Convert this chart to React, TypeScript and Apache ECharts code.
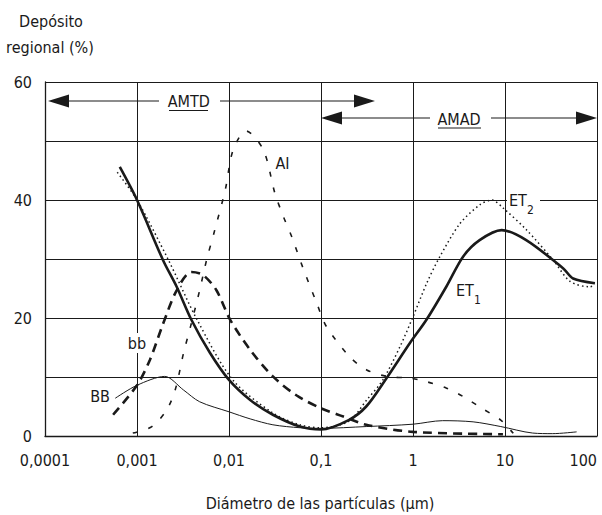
import React, { useEffect, useRef } from 'react';
import * as echarts from 'echarts';

// ---- data ----
const xTickLabels = ['0,0001', '0,001', '0,01', '0,1', '1', '10', '100'];
const yTickLabels = ['0', '', '20', '', '40', '', '60'];

const et1X = [0.00065, 0.001, 0.00192, 0.0027, 0.0039, 0.0062, 0.01, 0.017, 0.03, 0.059, 0.1, 0.2, 0.31, 0.5, 0.93, 1.4, 2.3, 3.5, 5.3, 9.2, 17, 43, 55, 95];
const et1Y = [45.6, 40, 29.8, 25.3, 19.7, 14.1, 9.5, 6.1, 3.6, 1.6, 1.1, 2.7, 5.0, 9.5, 15.8, 19.7, 25.3, 30.4, 33.2, 34.9, 33.2, 28.4, 26.7, 25.9];

const et2X = [0.00061, 0.001, 0.0022, 0.0045, 0.011, 0.03, 0.059, 0.1, 0.2, 0.314, 0.47, 0.72, 1.0, 1.41, 1.96, 3.24, 5.35, 7.2, 9.6, 17.2, 33.5, 51, 84, 95];
const et2Y = [44.7, 40, 29.8, 19.7, 9.5, 3.9, 1.9, 1.4, 2.5, 6.1, 9.5, 15.1, 20.2, 25.9, 30.4, 36, 39.2, 40, 38.6, 34.9, 29.8, 26.2, 25.3, 25.6];

const bbX = [0.00055, 0.001, 0.00138, 0.00193, 0.0027, 0.0039, 0.0052, 0.0073, 0.0103, 0.017, 0.03, 0.054, 0.1, 0.175, 0.31, 1.0, 9.5];
const bbY = [3.6, 8.6, 12.9, 19.1, 24.7, 27.8, 27.3, 24.7, 19.7, 14.6, 10.1, 6.9, 4.7, 3.3, 1.9, 0.7, 0.3];

const aiX = [0.0009, 0.00145, 0.0021, 0.0026, 0.0032, 0.0039, 0.0048, 0.0057, 0.007, 0.0091, 0.0111, 0.0153, 0.0236, 0.0316, 0.039, 0.048, 0.064, 0.09, 0.115, 0.206, 0.314, 0.52, 0.93, 1.41, 2.32, 3.5, 5.6, 9, 12.3];
const aiY = [0.5, 1.6, 4.4, 7.8, 14, 19.1, 24.7, 29.8, 34.9, 41.7, 48.5, 51.7, 48.5, 41.1, 37.2, 33.8, 28.4, 22.5, 18.5, 13.4, 11.2, 10.1, 9.8, 9.2, 8.1, 6.7, 4.7, 2.7, 0.45];

const bigBBX = [0.00058, 0.001, 0.002, 0.0032, 0.0048, 0.01, 0.017, 0.03, 0.059, 0.1, 0.31, 1.0, 2.1, 4.5, 9, 20, 33, 60];
const bigBBY = [6.4, 8.6, 10.1, 7.8, 5.8, 4.1, 2.9, 1.9, 1.4, 1.3, 1.6, 2.0, 2.6, 2.4, 1.6, 0.5, 0.4, 0.7];

const FONT = "'Liberation Sans Narrow', 'DejaVu Sans Condensed', 'Arial Narrow', sans-serif";
const INK = '#1a1a1a';
const FS = 16;

const zip = (xs: number[], ys: number[]) => xs.map((x, i) => [x, ys[i]]);

function txt(text: string, x: number, y: number, size = FS, extra: any = {}) {
  return {
    type: 'text',
    z: 100,
    style: { text, x, y, fontSize: size, fontFamily: FONT, fill: INK, align: 'center', verticalAlign: 'middle', ...extra },
  };
}
function subTxt(main: string, sub: string, x: number, y: number) {
  return {
    type: 'text',
    z: 100,
    style: {
      text: `{a|${main}}{b|${sub}}`, x, y, align: 'left', verticalAlign: 'middle', fill: INK,
      fontFamily: FONT, fontSize: FS,
      rich: {
        a: { fontSize: FS, fontFamily: FONT, fill: INK, lineHeight: 20, verticalAlign: 'top' },
        b: { fontSize: 12, fontFamily: FONT, fill: INK, lineHeight: 12, padding: [12, 0, 0, 0], verticalAlign: 'top' },
      },
    },
  };
}
function ln(x1: number, y1: number, x2: number, y2: number, w = 1.2) {
  return { type: 'line', z: 100, shape: { x1, y1, x2, y2 }, style: { stroke: INK, lineWidth: w } };
}
function arrowHead(tipX: number, y: number, dir: number) {
  const L = 21, H = 6.5;
  return {
    type: 'polygon', z: 100,
    shape: { points: [[tipX, y], [tipX - dir * L, y - H], [tipX - dir * L, y + H]] },
    style: { fill: INK },
  };
}

export default function App() {
  const ref = useRef<HTMLDivElement>(null);
  useEffect(() => {
    document.body.style.margin = '0';
    const chart = echarts.init(ref.current!, null, { renderer: 'svg' });
    chart.setOption({
      animation: false,
      backgroundColor: '#fff',
      grid: { left: 45, right: 5, top: 82, bottom: 79, containLabel: false },
      xAxis: {
        type: 'log', logBase: 10, min: 0.0001, max: 100,
        axisLine: { show: true, lineStyle: { color: INK, width: 1.3 } },
        axisTick: { show: false },
        minorTick: { show: false },
        splitLine: { show: true, lineStyle: { color: INK, width: 1 } },
        axisLabel: {
          margin: 16, fontSize: FS, fontFamily: FONT, color: INK,
          alignMaxLabel: 'right',
          formatter: (v: number) => xTickLabels[Math.round(Math.log10(v)) + 4] ?? '',
        },
      },
      yAxis: {
        type: 'value', min: 0, max: 60, interval: 10,
        axisLine: { show: true, lineStyle: { color: INK, width: 1.3 } },
        axisTick: { show: false },
        splitLine: { show: true, lineStyle: { color: INK, width: 1 } },
        axisLabel: {
          margin: 13, fontSize: FS, fontFamily: FONT, color: INK,
          formatter: (v: number) => yTickLabels[Math.round(v / 10)] ?? '',
        },
      },
      series: [
        { name: 'BB', type: 'line', data: zip(bigBBX, bigBBY), smooth: 0.3, showSymbol: false, lineStyle: { color: INK, width: 1 }, z: 3 },
        { name: 'AI', type: 'line', data: zip(aiX, aiY), smooth: 0.3, showSymbol: false, lineStyle: { color: INK, width: 1.6, type: [5, 11] }, z: 3 },
        { name: 'bb', type: 'line', data: zip(bbX, bbY), smooth: 0.3, showSymbol: false, lineStyle: { color: INK, width: 2.6, type: [9, 6] }, z: 4 },
        { name: 'ET2', type: 'line', data: zip(et2X, et2Y), smooth: 0.3, showSymbol: false, lineStyle: { color: INK, width: 1.5, type: [1.5, 3] }, z: 4 },
        { name: 'ET1', type: 'line', data: zip(et1X, et1Y), smooth: 0.3, showSymbol: false, lineStyle: { color: INK, width: 2.6 }, z: 5 },
      ],
      graphic: [
        // axis titles
        txt('Depósito', 51, 21),
        txt('regional (%)', 50, 47),
        txt('Diámetro de las partículas (μm)', 320, 503),
        // AMTD arrow
        arrowHead(48, 101, -1),
        ln(68, 101, 159, 101),
        ln(220, 101, 356, 101),
        arrowHead(375, 101, 1),
        txt('AMTD', 188.7, 101),
        ln(169, 110.5, 208, 110.5, 1),
        // AMAD arrow
        arrowHead(321, 118, -1),
        ln(341, 118, 430, 118),
        ln(491, 118, 578, 118),
        arrowHead(597, 118, 1),
        txt('AMAD', 459, 119),
        ln(438, 128, 481, 128, 1),
        // curve labels
        txt('AI', 282.5, 163),
        txt('bb', 137, 343, FS, { backgroundColor: '#fff', padding: [2, 1] }),
        txt('BB', 100, 396),
        subTxt('ET', '1', 456, 292),
        { type: 'rect', z: 99, shape: { x: 507, y: 196, width: 33, height: 8 }, style: { fill: '#fff' } },
        subTxt('ET', '2', 509, 202),
      ],
    });
    return () => chart.dispose();
  }, []);
  return <div ref={ref} style={{ position: 'fixed', left: 0, top: 0, width: 602, height: 515 }} />;
}
